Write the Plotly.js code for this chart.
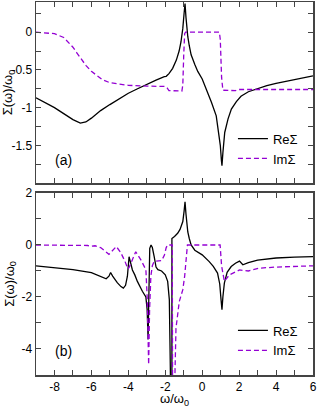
<!DOCTYPE html>
<html>
<head>
<meta charset="utf-8">
<script src="https://cdn.plot.ly/plotly-3.0.1.min.js"></script>
<style>html,body{margin:0;padding:0;background:#fff}#chart{width:318px;height:408px}</style>
</head>
<body>
<div id="chart"></div>
<script>
// ---- panel (a) ----
const wReA = [-9,-8.5,-8,-7.5,-7,-6.6,-6.3,-6,-5.5,-5,-4.5,-4,-3.5,-3,-2.5,-2.05,-1.95,-1.8,-1.6,-1.4,-1.25,-1.15,-1.05,-0.98,-0.93,-0.88,-0.83,-0.78,-0.7,-0.6,-0.4,-0.24,0,0.3,0.5,0.76,0.9,0.98,1.04,1.07,1.12,1.22,1.4,1.58,1.85,2.1,2.5,3,3.5,4,4.5,5,5.5,6];
const reA  = [-0.87,-0.93,-1.0,-1.08,-1.16,-1.205,-1.19,-1.14,-1.04,-0.96,-0.88,-0.81,-0.75,-0.69,-0.635,-0.59,-0.585,-0.55,-0.48,-0.37,-0.25,-0.13,0.05,0.25,0.38,0.2,0.03,-0.06,-0.18,-0.3,-0.43,-0.52,-0.62,-0.8,-0.93,-1.11,-1.32,-1.5,-1.7,-1.77,-1.6,-1.33,-1.15,-1.02,-0.92,-0.85,-0.79,-0.745,-0.71,-0.68,-0.655,-0.63,-0.605,-0.58];
const wImA = [-9,-8.5,-8,-7.5,-7.2,-7,-6.8,-6.6,-6.3,-6,-5.7,-5.4,-5,-4.5,-4,-3,-2,-1.9,-1.8,-1.1,-1.05,-1.0,-0.95,-0.9,0.93,0.98,1.05,1.12,1.8,2.0,6];
const imA  = [0,-0.005,-0.02,-0.07,-0.14,-0.2,-0.27,-0.34,-0.44,-0.52,-0.58,-0.63,-0.67,-0.69,-0.705,-0.715,-0.72,-0.74,-0.775,-0.78,-0.7,-0.3,-0.02,0,0,-0.1,-0.6,-0.77,-0.775,-0.76,-0.76];

// ---- panel (b) ----
const wReB = [-9,-8,-7,-6,-5.5,-5.2,-5.05,-4.96,-4.85,-4.6,-4.4,-4.27,-4.15,-4.05,-3.96,-3.9,-3.78,-3.65,-3.51,-3.24,-3.05,-2.98,-2.93,-2.89,-2.84,-2.77,-2.7,-2.6,-2.5,-2.4,-2.2,-2.0,-1.87,-1.78,-1.72,-1.68,-1.64,-1.64,-1.5,-1.33,-1.2,-1.05,-0.98,-0.93,-0.88,-0.82,-0.78,-0.7,-0.6,-0.4,-0.16,0,0.38,0.6,0.83,0.95,1.02,1.07,1.12,1.2,1.35,1.57,1.8,2.02,2.2,2.5,3,3.5,4,5,6];
const reB  = [-0.8,-0.87,-0.95,-1.06,-1.2,-1.3,-1.2,-1.06,-1.2,-1.45,-1.6,-1.66,-1.55,-1.2,-0.45,-0.6,-0.96,-1.15,-1.4,-1.78,-2.0,-2.5,-3.63,-2.0,-0.13,0.0,-0.1,-0.45,-0.85,-0.95,-1.0,-1.15,-1.4,-2.1,-3.5,-7,-7,0.25,0.33,0.45,0.6,0.9,1.3,1.66,1.2,0.7,0.5,0.25,0.0,-0.2,-0.32,-0.38,-0.64,-0.82,-1.08,-1.5,-2.1,-2.49,-2.0,-1.47,-1.05,-0.83,-0.7,-0.62,-0.76,-0.68,-0.58,-0.53,-0.5,-0.47,-0.45];
const wImB = [-9,-6.5,-6.2,-6,-5.8,-5.5,-5.05,-4.65,-4.42,-4.2,-4.02,-3.95,-3.6,-3.3,-3.05,-2.98,-2.9,-2.85,-2.78,-2.7,-2.6,-2.2,-2.05,-1.95,-1.87,-1.62,-1.6,-1.54,-1.47,-1.42,-1.24,-1.05,-0.95,-0.87,-0.8,0.97,1.05,1.2,1.47,2.02,2.5,3.1,4,6];
const imB  = [0,0,-0.02,-0.05,-0.03,-0.1,-0.36,-0.06,-0.28,-0.6,-0.92,-0.85,-0.26,-0.6,-0.95,-2.0,-4.6,-2.5,-1.2,-0.8,-0.63,-0.6,-0.4,-0.1,0,0,-7,-7,-4,-3.2,-2.17,-1.72,-1.2,-0.64,0,0,-0.8,-1.4,-1.15,-0.96,-1.0,-0.89,-0.85,-0.8];

// ---- ticks ----
const xTickVals = [-8,-6,-4,-2,0,2,4,6];
const xTickText = ['-8','-6','-4','-2','0','2','4','6'];
const yaTickVals = [-1.5,-1,-0.5,0];
const yaTickText = ['-1.5','-1','-0.5','0'];
const ybTickVals = [-4,-2,0,2];
const ybTickText = ['-4','-2','0','2'];
const seriesNames = ['Re\u03A3','Im\u03A3'];

const PURPLE = '#9400D3';
const FR = '#444';
const font = {family:'Liberation Sans, Arial, sans-serif', size:12, color:'#000'};

const traces = [
  {x:wReA, y:reA, xaxis:'x', yaxis:'y', mode:'lines', name:seriesNames[0], line:{color:'#000', width:1.3}, legend:'legend'},
  {x:wImA, y:imA, xaxis:'x', yaxis:'y', mode:'lines', name:seriesNames[1], line:{color:PURPLE, width:1.3, dash:'5px,3px'}, legend:'legend'},
  {x:wReB, y:reB, xaxis:'x2', yaxis:'y2', mode:'lines', name:seriesNames[0], line:{color:'#000', width:1.3}, legend:'legend2'},
  {x:wImB, y:imB, xaxis:'x2', yaxis:'y2', mode:'lines', name:seriesNames[1], line:{color:PURPLE, width:1.3, dash:'5px,3px'}, legend:'legend2'}
];

const axBase = {showgrid:false, zeroline:false, showline:true, linecolor:FR, linewidth:1.5, mirror:'ticks', ticks:'inside', ticklen:5, tickcolor:FR, tickwidth:1, tickfont:font};

const legBase = {bgcolor:'rgba(0,0,0,0)', borderwidth:0, font:{family:font.family, size:13, color:'#000'}, itemwidth:30, xanchor:'left', yanchor:'middle', tracegroupgap:0};

const layout = {
  width:318, height:408,
  margin:{l:36, r:5, t:2, b:33},
  paper_bgcolor:'#fff', plot_bgcolor:'#fff',
  font:font,
  showlegend:true,
  xaxis: Object.assign({}, axBase, {domain:[0,1], anchor:'y', range:[-9,6], tickvals:xTickVals, ticktext:xTickText, showticklabels:false,
          minor:{dtick:1, ticks:'inside', ticklen:5, tickcolor:FR, tickwidth:1}}),
  yaxis: Object.assign({}, axBase, {domain:[0.5147,1], anchor:'x', range:[-2,0.4], tickvals:yaTickVals, ticktext:yaTickText,
          minor:{dtick:0.25, ticks:'inside', ticklen:5, tickcolor:FR, tickwidth:1},
          title:{text:'\u03A3(\u03C9)/\u03C9<sub>0</sub>', font:{family:font.family, size:13}, standoff:4}}),
  xaxis2: Object.assign({}, axBase, {domain:[0,1], anchor:'y2', range:[-9,6], tickvals:xTickVals, ticktext:xTickText, matches:'x',
          minor:{dtick:1, ticks:'inside', ticklen:5, tickcolor:FR, tickwidth:1},
          title:{text:'\u03C9/\u03C9<sub>0</sub>', font:{family:font.family, size:13}, standoff:4}}),
  yaxis2: Object.assign({}, axBase, {domain:[0,0.488], anchor:'x2', range:[-5,2], tickvals:ybTickVals, ticktext:ybTickText,
          minor:{dtick:1, ticks:'inside', ticklen:5, tickcolor:FR, tickwidth:1},
          title:{text:'\u03A3(\u03C9)/\u03C9<sub>0</sub>', font:{family:font.family, size:13}, standoff:4}}),
  legend: Object.assign({}, legBase, {x:0.711, y:0.607}),
  legend2: Object.assign({}, legBase, {x:0.711, y:0.0925}),
  annotations:[
    {text:'(a)', xref:'x', yref:'y', x:-7.5, y:-1.69, showarrow:false, font:{family:font.family, size:14}},
    {text:'(b)', xref:'x2', yref:'y2', x:-7.5, y:-4.09, showarrow:false, font:{family:font.family, size:14}}
  ]
};

Plotly.newPlot('chart', traces, layout, {displayModeBar:false, staticPlot:true});
</script>
</body>
</html>
